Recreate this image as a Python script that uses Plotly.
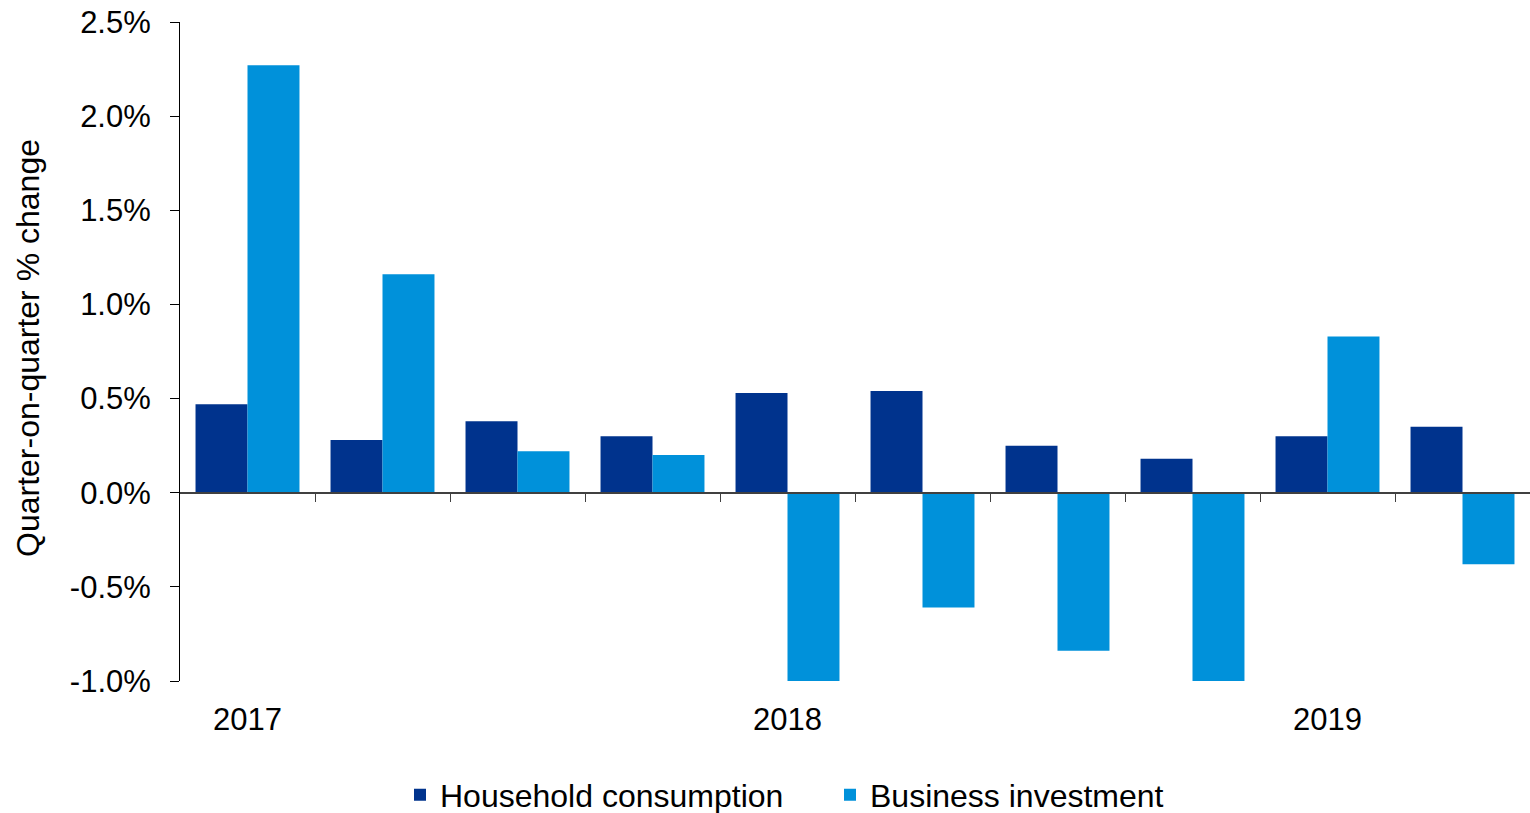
import plotly.graph_objects as go

quarters = ["2017 Q1", "2017 Q2", "2017 Q3", "2017 Q4", "2018 Q1",
            "2018 Q2", "2018 Q3", "2018 Q4", "2019 Q1", "2019 Q2"]
household = [0.47, 0.28, 0.38, 0.30, 0.53, 0.54, 0.25, 0.18, 0.30, 0.35]
business = [2.27, 1.16, 0.22, 0.20, -1.01, -0.61, -0.84, -1.01, 0.83, -0.38]
year_positions = [0, 4, 8]
year_labels = ["2017", "2018", "2019"]
y_ticks = [-1.0, -0.5, 0.0, 0.5, 1.0, 1.5, 2.0, 2.5]

DARK = "#00338D"
LIGHT = "#0091DA"
FONT = "Liberation Sans, Arial, sans-serif"

xidx = list(range(len(quarters)))

fig = go.Figure()
fig.add_trace(go.Bar(x=xidx, y=household, name="Household consumption",
                     marker=dict(color=DARK, line=dict(width=0)),
                     hovertext=quarters))
fig.add_trace(go.Bar(x=xidx, y=business, name="Business investment",
                     marker=dict(color=LIGHT, line=dict(width=0)),
                     hovertext=quarters))

zero_pos = (0 - y_ticks[0]) / (y_ticks[-1] - y_ticks[0])
boundaries = [i + 0.5 for i in xidx[:-1]]

fig.update_layout(
    width=1530, height=813,
    margin=dict(l=180, r=0, t=22, b=132),
    paper_bgcolor="white", plot_bgcolor="white",
    font=dict(family=FONT, size=31, color="black"),
    barmode="group", bargap=0.23, bargroupgap=0,
    showlegend=True,
    legend=dict(orientation="h", xref="container", yref="container",
                x=400 / 1530, xanchor="left", y=1 - 795 / 813, yanchor="middle",
                font=dict(size=32), traceorder="normal",
                entrywidth=385, entrywidthmode="pixels"),
    xaxis=dict(range=[-0.5, len(quarters) - 0.5], tickmode="array",
               tickvals=year_positions, ticktext=year_labels,
               showline=False, showgrid=False, zeroline=False, ticks="",
               ticklabelstandoff=17, tickfont=dict(size=31)),
    xaxis2=dict(range=[-0.5, len(quarters) - 0.5], overlaying="x",
                anchor="free", position=zero_pos, side="bottom",
                tickmode="array", tickvals=boundaries, showticklabels=False,
                ticks="outside", ticklen=9, tickwidth=1, tickcolor="#404040",
                showline=True, linecolor="#404040", linewidth=1.5,
                showgrid=False, zeroline=False),
    yaxis=dict(range=[y_ticks[0], y_ticks[-1]], tickmode="array",
               tickvals=y_ticks, ticktext=[f"{v:.1f}%" for v in y_ticks],
               showline=True, linecolor="black", linewidth=1,
               ticks="outside", ticklen=9, tickcolor="black",
               ticklabelstandoff=13,
               showgrid=False, zeroline=False, tickfont=dict(size=31)),
    annotations=[dict(text="Quarter-on-quarter % change", textangle=-90,
                      xref="paper", yref="paper",
                      x=(28 - 180) / 1350, y=(681 - 348) / 659,
                      xanchor="center", yanchor="middle", showarrow=False,
                      font=dict(size=32))],
)

fig.add_trace(go.Scatter(x=[xidx[0]], y=[0], xaxis="x2", mode="markers",
                         marker=dict(opacity=0), showlegend=False, hoverinfo="skip"))

fig.write_html("out.html")
